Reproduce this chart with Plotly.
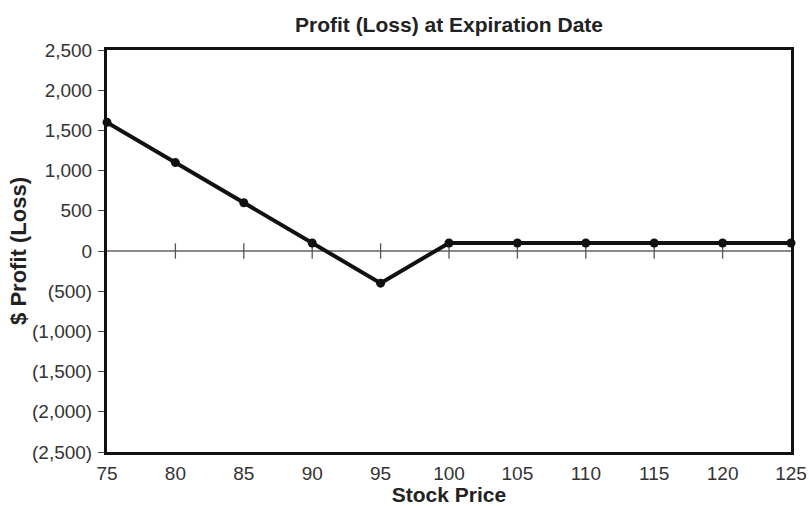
import plotly.graph_objects as go

# Payoff profile at expiration
stock_price = [75, 80, 85, 90, 95, 100, 105, 110, 115, 120, 125]
profit = [1600, 1100, 600, 100, -400, 100, 100, 100, 100, 100, 100]

y_tick_vals = [2500, 2000, 1500, 1000, 500, 0, -500, -1000, -1500, -2000, -2500]
y_tick_text = ["2,500", "2,000", "1,500", "1,000", "500", "0",
               "(500)", "(1,000)", "(1,500)", "(2,000)", "(2,500)"]
x_tick_vals = [75, 80, 85, 90, 95, 100, 105, 110, 115, 120, 125]

font_family = "Liberation Sans, Arial, Helvetica, sans-serif"

fig = go.Figure()

# Tick marks sitting on the zero line
fig.add_trace(go.Scatter(
    x=x_tick_vals[1:-1], y=[0] * (len(x_tick_vals) - 2),
    mode="markers",
    marker=dict(symbol="line-ns-open", size=11, color="#555",
                line=dict(color="#555", width=1.3)),
    hoverinfo="skip", showlegend=False,
))

fig.add_trace(go.Scatter(
    x=stock_price, y=profit,
    mode="lines+markers",
    line=dict(color="#111", width=4),
    marker=dict(symbol="circle", size=9, color="#111"),
    showlegend=False,
    cliponaxis=False,
))

fig.update_layout(
    width=809, height=506,
    margin=dict(l=107, r=18, t=50, b=54),
    paper_bgcolor="white", plot_bgcolor="white",
    font=dict(family=font_family, size=19, color="#333"),
    title=dict(text="<b>Profit (Loss) at Expiration Date</b>",
               xref="paper", x=0.5, xanchor="center", y=0.952, yanchor="middle",
               font=dict(size=21, color="#222")),
)

fig.update_xaxes(
    range=[75, 125], tickvals=x_tick_vals, ticks="", ticklabelstandoff=2,
    showgrid=False, zeroline=False, automargin=False,
    showline=True, mirror=True, linecolor="#111", linewidth=3,
    title=dict(text="<b>Stock Price</b>", font=dict(size=21, color="#222"), standoff=2),
)
fig.update_yaxes(
    range=[-2500, 2500], tickvals=y_tick_vals, ticktext=y_tick_text,
    ticks="outside", ticklen=6, tickcolor="#444", tickwidth=1.2,
    ticklabelstandoff=2, automargin=False,
    showgrid=False, zeroline=True, zerolinecolor="#888", zerolinewidth=1.5,
    showline=True, mirror=True, linecolor="#111", linewidth=3,
    title=dict(text="<b>$ Profit (Loss)</b>", font=dict(size=22, color="#222"), standoff=0),
)

fig.write_html("out.html")
